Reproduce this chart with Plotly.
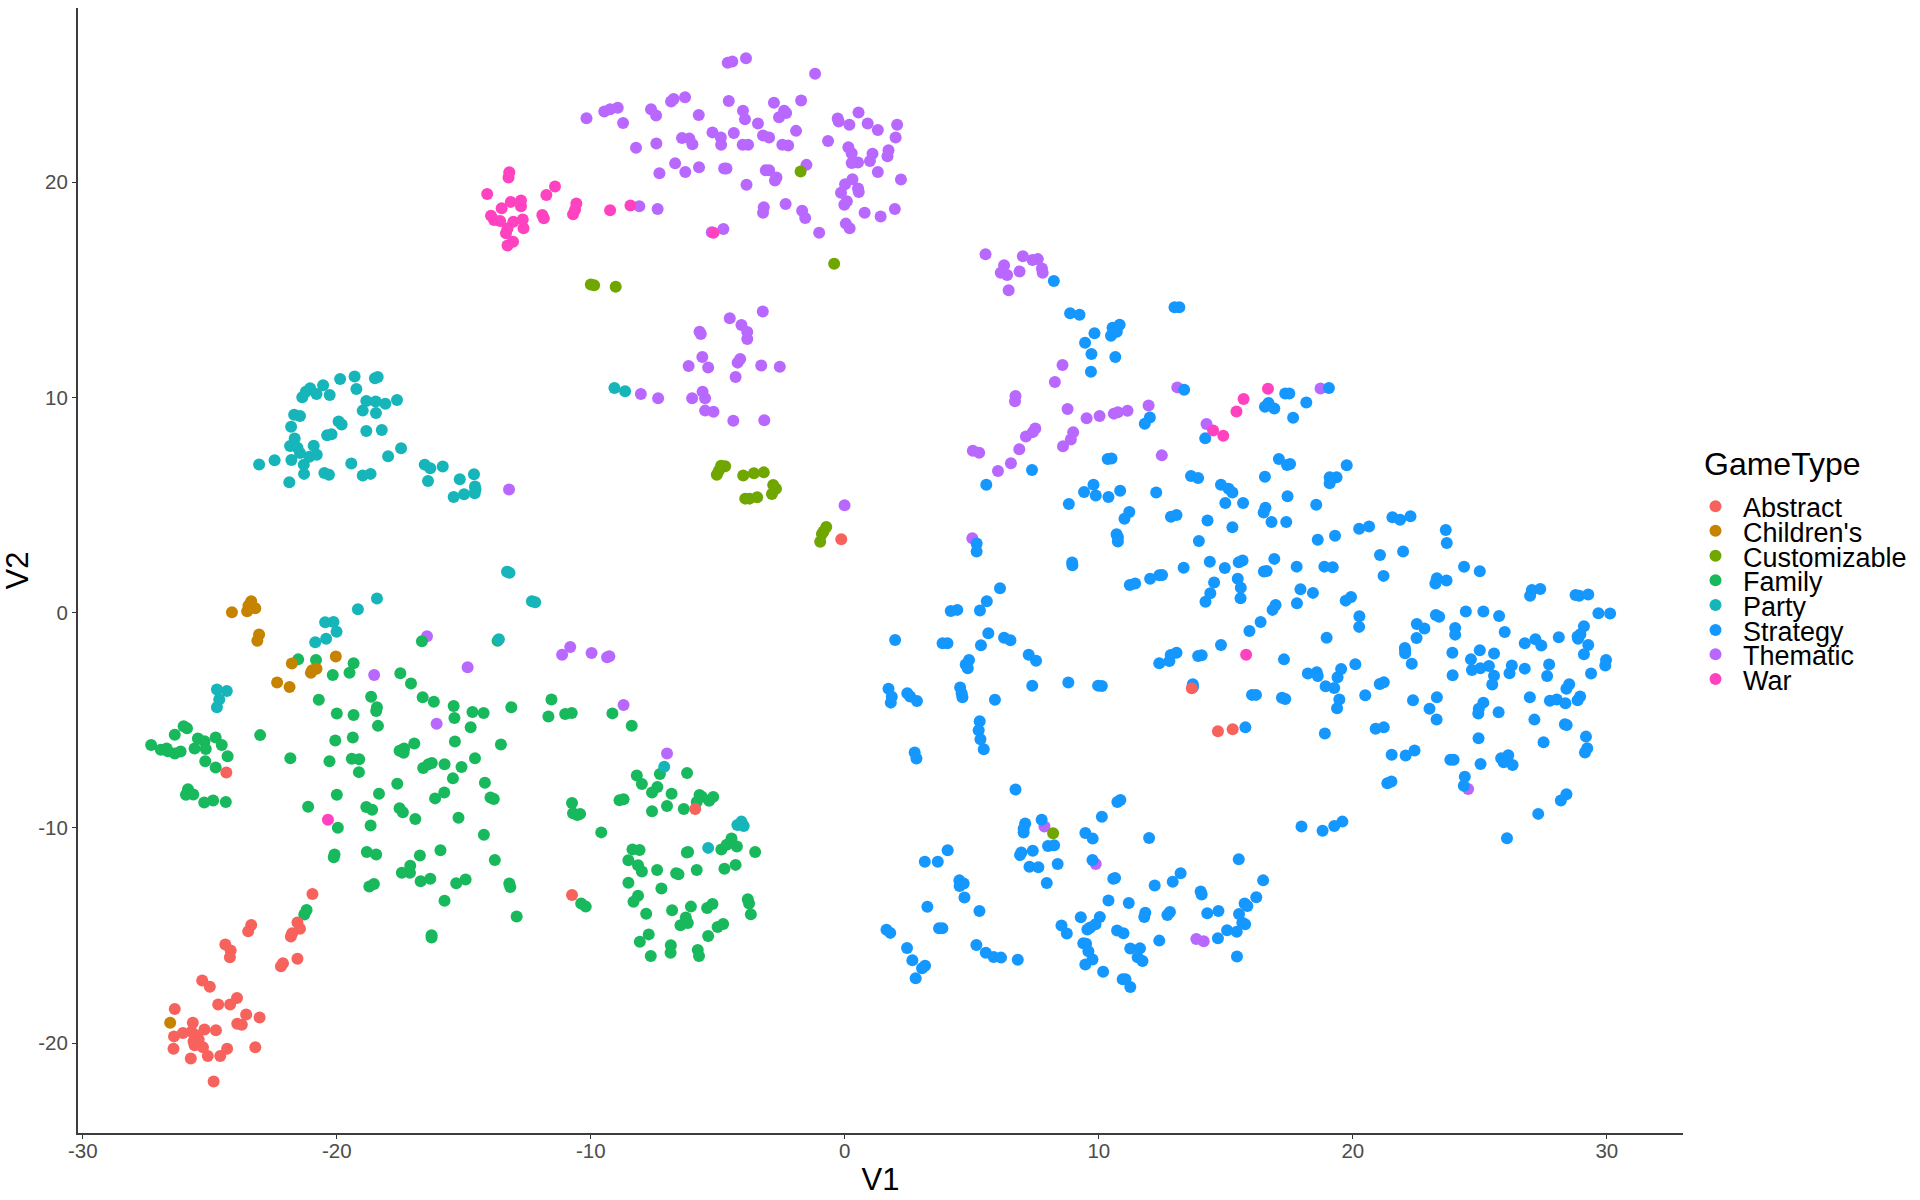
import plotly.graph_objects as go

game_types = ["Abstract", "Children's", "Customizable", "Family", "Party", "Strategy", "Thematic", "War"]
colors = {"Abstract": "#F8625C", "Children's": "#C58300", "Customizable": "#70A600", "Family": "#18B85C",
          "Party": "#16B5B9", "Strategy": "#1497FF", "Thematic": "#B968FF", "War": "#FF43C0"}

abstract_pts = [(-20.96,-13.07),(-21.55,-14.40),(-21.45,-14.69),(-21.76,-14.90),(-21.81,-15.05),(-23.37,-14.51),(-23.49,-14.81),(-24.39,-15.42),(-24.18,-15.70),(-24.21,-16.01),(-22.12,-16.29),(-22.20,-16.43),(-21.55,-16.08),(-25.30,-17.09),(-25.00,-17.38),(-23.93,-17.91),(-24.20,-18.21),(-24.67,-18.21),(-26.38,-18.42),(-23.57,-18.67),(-23.04,-18.81),(-25.67,-19.06),(-23.92,-19.10),(-23.74,-19.15),(-25.21,-19.37),(-24.76,-19.40),(-26.06,-19.53),(-25.72,-19.47),(-26.41,-19.69),(-25.51,-19.65),(-25.58,-19.79),(-25.44,-19.83),(-25.64,-19.92),(-25.60,-20.10),(-25.27,-20.19),(-26.43,-20.27),(-24.32,-20.27),(-23.21,-20.19),(-25.08,-20.60),(-24.59,-20.60),(-25.75,-20.72),(-24.85,-21.79),(-24.35,-7.43),(13.66,-3.51),(14.69,-5.51),(15.27,-5.42),(-5.89,-9.12),(-10.74,-13.12),(-0.14,3.41)]

childrens_pts = [(-24.13,0.02),(-23.53,0.07),(-23.37,0.53),(-23.41,0.39),(-23.21,0.21),(-23.48,0.32),(-23.06,-1.01),(-23.13,-1.30),(-26.56,-19.06),(-21.77,-2.36),(-22.35,-3.25),(-21.86,-3.45),(-21.02,-2.79),(-20.97,-2.67),(-20.80,-2.61),(-20.04,-2.04)]

customizable_pts = [(-1.74,20.50),(-0.42,16.22),(-10.00,15.25),(-9.87,15.22),(-9.02,15.15),(8.20,-10.25),(-5.04,6.41),(-4.96,6.60),(-4.87,6.83),(-4.71,6.80),(-4.00,6.38),(-3.58,6.48),(-3.19,6.52),(-2.82,5.93),(-2.71,5.76),(-2.87,5.52),(-3.92,5.30),(-3.75,5.30),(-3.45,5.36),(-0.73,3.98),(-0.84,3.77),(-0.90,3.66),(-0.97,3.30)]

family_pts = [(-27.31,-6.15),(-26.93,-6.37),(-26.70,-6.31),(-26.65,-6.44),(-26.38,-6.54),(-26.15,-6.45),(-26.38,-5.67),(-26.03,-5.28),(-25.90,-5.37),(-25.60,-6.31),(-25.47,-5.85),(-25.21,-5.97),(-25.16,-6.33),(-24.77,-5.80),(-24.53,-6.15),(-24.30,-6.67),(-25.18,-6.90),(-24.77,-7.20),(-25.86,-8.20),(-25.94,-8.46),(-25.65,-8.45),(-25.22,-8.82),(-24.87,-8.73),(-24.37,-8.80),(-23.02,-5.69),(-21.83,-6.77),
(-21.52,-2.17),(-20.82,-2.20),(-19.34,-2.35),(-19.50,-2.79),(-20.16,-2.90),(-20.71,-4.05),(-20.00,-4.69),(-19.34,-4.75),(-18.65,-3.91),(-18.42,-4.39),(-18.45,-4.57),(-18.38,-5.26),(-20.06,-5.94),(-19.37,-5.80),(-20.29,-6.90),(-19.41,-6.79),(-19.12,-6.81),(-19.13,-7.41),(-20.00,-8.46),(-21.13,-9.02),(-19.96,-9.99),(-18.67,-9.89),(-18.84,-9.03),(-18.61,-9.16),(-18.34,-8.41),(-17.62,-7.95),(-17.50,-2.81),(-17.08,-3.29),(-16.62,-3.93),(-16.18,-4.14),(-15.40,-4.34),(-15.37,-4.89),(-14.66,-4.62),(-14.22,-4.66),(-13.13,-4.39),(-14.73,-5.32),(-15.35,-5.99),(-13.54,-6.13),(-16.95,-6.08),(-17.35,-6.31),(-17.53,-6.42),(-17.37,-6.51),(-16.60,-7.22),(-16.39,-7.04),(-16.26,-6.99),(-15.76,-7.04),(-15.09,-7.17),(-14.56,-6.77),(-15.43,-7.70),(-14.17,-7.90),(-15.77,-8.36),(-16.13,-8.63),(-13.95,-8.59),(-13.82,-8.66),(-15.21,-9.53),(-17.53,-9.09),(-17.40,-9.27),(-16.91,-9.59),(-14.21,-10.32),(-15.92,-11.04),(-16.73,-11.28),(-13.78,-11.49),(-20.09,-11.24),(-20.12,-11.37),(-18.82,-11.12),(-18.45,-11.24),(-17.11,-11.76),(-17.12,-12.09),(-17.44,-12.09),(-16.70,-12.48),(-16.32,-12.36),(-14.93,-12.40),(-15.30,-12.57),(-15.76,-13.39),(-18.72,-12.72),(-18.54,-12.61),(-13.21,-12.59),(-13.17,-12.75),(-12.92,-14.12),(-16.27,-14.99),(-16.27,-15.10),(-21.28,-14.03),(-21.19,-13.82),(-16.65,-1.33),(-13.67,-1.31),
(-11.55,-4.04),(-11.67,-4.82),(-11.01,-4.71),(-10.75,-4.66),(-9.15,-4.68),(-8.39,-5.25),(-6.21,-7.45),(-8.19,-7.57),(-7.28,-7.50),(-7.99,-7.96),(-7.38,-8.10),(-7.59,-8.36),(-6.82,-8.41),(-8.71,-8.67),(-8.87,-8.72),(-5.72,-8.47),(-5.63,-8.55),(-5.83,-8.80),(-5.34,-8.74),(-5.18,-8.56),(-10.74,-8.84),(-10.70,-9.32),(-10.53,-9.40),(-10.42,-9.35),(-7.59,-9.23),(-7.00,-8.98),(-6.34,-9.12),(-9.59,-10.21),(-8.36,-11.00),(-8.08,-11.03),(-6.17,-11.12),(-6.22,-11.15),(-4.86,-11.01),(-4.65,-10.78),(-4.46,-10.49),(-4.25,-10.87),(-3.53,-11.12),(-8.52,-11.51),(-8.14,-11.74),(-7.99,-12.03),(-7.39,-11.96),(-6.64,-12.11),(-6.55,-12.16),(-5.83,-11.96),(-4.74,-11.90),(-4.30,-11.72),(-8.52,-12.55),(-7.22,-12.82),(-10.38,-13.51),(-10.20,-13.66),(-8.14,-13.15),(-8.32,-13.43),(-7.82,-13.99),(-6.80,-13.83),(-6.06,-13.66),(-5.42,-13.72),(-5.21,-13.54),(-3.82,-13.32),(-3.77,-13.52),(-3.70,-14.02),(-6.26,-14.16),(-6.18,-14.42),(-6.47,-14.53),(-5.01,-14.61),(-4.79,-14.47),(-5.38,-15.02),(-7.72,-14.95),(-8.07,-15.29),(-6.85,-15.46),(-6.86,-15.80),(-7.64,-15.95),(-5.79,-15.67),(-5.74,-15.95)]

party_pts = [(-23.06,6.89),(-22.45,7.08),(-21.79,7.10),(-21.87,6.06),(-21.29,6.45),(-21.30,6.88),(-21.45,7.42),(-21.08,7.25),(-20.79,7.34),(-20.91,7.76),(-21.84,7.75),(-21.66,8.09),(-21.55,7.67),(-21.80,8.64),(-21.68,9.20),(-21.45,9.14),(-21.36,10.01),(-21.22,10.27),(-21.05,10.43),(-20.80,10.16),(-20.54,10.57),(-20.28,10.12),(-19.87,10.86),(-19.30,10.98),(-19.23,10.39),(-18.50,10.89),(-18.39,10.95),(-18.84,9.84),(-18.47,9.81),(-18.09,9.71),(-17.63,9.88),(-18.98,9.39),(-18.46,9.28),(-19.93,8.88),(-19.81,8.75),(-20.38,8.24),(-20.21,8.29),(-18.84,8.44),(-18.23,8.49),(-19.43,6.93),(-20.49,6.49),(-20.31,6.41),(-18.98,6.37),(-18.67,6.45),(-17.98,7.27),(-17.47,7.64),(-16.54,6.88),(-16.32,6.71),(-15.83,6.79),(-16.41,6.12),(-15.16,6.20),(-14.60,6.43),(-14.56,5.86),(-14.54,5.73),(-14.57,5.55),(-14.99,5.50),(-15.40,5.38),(-9.07,10.44),(-8.65,10.29),
(-24.72,-3.57),(-24.33,-3.64),(-24.63,-4.04),(-24.72,-4.39),(-20.46,-0.44),(-20.13,-0.43),(-20.01,-0.89),(-20.42,-1.21),(-20.85,-1.37),(-19.17,0.16),(-18.42,0.66),(-13.30,1.90),(-13.20,1.85),(-13.62,-1.23),(-12.32,0.53),(-12.19,0.48),(-7.11,-7.16),(-5.38,-10.93),(-4.23,-9.87),(-4.07,-9.71),(-3.98,-9.91)]

strategy_pts = [(10.35,7.14),(10.50,7.16),(17.09,7.14),(17.41,6.86),(17.53,6.91),(19.76,6.85),(13.63,6.35),(13.91,6.26),(16.54,6.32),(19.09,6.29),(19.36,6.29),(19.09,6.01),(14.81,5.95),(15.11,5.76),(15.26,5.58),(10.84,5.67),(10.38,5.38),(12.26,5.59),(14.98,5.10),(15.68,5.10),(17.43,5.41),(18.56,5.02),(11.20,4.68),(11.01,4.37),(12.84,4.46),(13.06,4.54),(14.28,4.28),(15.26,3.97),(16.56,4.88),(16.49,4.65),(16.80,4.21),(17.38,4.21),(10.70,3.64),(10.75,3.50),(10.75,3.31),(13.94,3.33),(18.62,3.39),(19.30,3.58),(20.25,3.90),(20.64,4.00),(21.56,4.43),(21.86,4.32),(22.27,4.48),(23.66,3.84),(23.70,3.24),(21.07,2.68),(21.98,2.84),(14.37,2.37),(14.96,2.08),(13.34,2.09),(15.51,2.34),(15.66,2.43),(16.91,2.50),(17.79,2.14),(18.88,2.14),(19.21,2.11),(16.50,1.91),(16.61,1.94),(12.38,1.74),(12.02,1.58),(11.43,1.36),(11.22,1.29),(12.49,1.75),(15.47,1.58),(14.54,1.40),(15.59,1.16),(14.39,0.90),(14.20,0.51),(15.58,0.67),(17.94,1.09),(18.43,0.92),(17.80,0.44),(21.21,1.71),(23.31,1.60),(23.25,1.36),(23.69,1.49),(24.38,2.13),(25.00,1.92),(19.93,0.73),(19.72,0.56),(16.96,0.36),(16.84,0.13),(16.37,-0.43),(15.93,-0.85),(20.26,-0.17),(20.25,-0.66),(18.97,-1.16),(14.81,-1.50),(13.06,-1.86),(12.83,-1.97),(12.78,-2.25),(12.38,-2.35),(13.91,-2.01),(14.05,-1.98),(17.29,-2.17),
(13.70,-3.33),(13.71,-3.45),(10.12,-3.41),(20.10,-2.40),(19.54,-2.62),(19.40,-3.00),(18.23,-2.83),(18.58,-2.77),(18.62,-2.94),(18.93,-3.42),(19.27,-3.50),(19.47,-4.03),(19.38,-4.44),(20.49,-3.84),(21.06,-3.31),(21.22,-3.23),(16.03,-3.82),(16.19,-3.82),(17.21,-3.95),(17.34,-4.01),(15.77,-5.33),(18.90,-5.61),(20.90,-5.39),(21.22,-5.33),(22.37,-4.07),(23.31,-3.93),(23.02,-4.46),(23.30,-4.96),
(22.52,-0.53),(22.82,-0.73),(22.51,-1.18),(23.27,-0.11),(23.40,-0.19),(24.45,0.06),(25.14,0.05),(25.76,-0.15),(24.03,-0.71),(24.03,-1.02),(25.98,-0.90),(22.05,-1.64),(22.06,-1.76),(22.06,-1.89),(22.32,-2.37),(23.92,-1.86),(25.00,-1.75),(25.56,-1.90),(24.65,-2.17),(24.69,-2.66),(25.02,-2.58),(25.36,-2.48),(26.26,-2.45),(26.17,-2.82),(26.77,-2.60),(25.56,-2.93),(25.49,-3.34),(23.93,-2.91),(27.73,-2.41),(27.65,-2.94),
(27.05,1.05),(26.98,0.79),(27.38,1.10),(28.77,0.82),(28.91,0.79),(29.27,0.85),(29.67,-0.03),(30.13,-0.04),(29.10,-0.63),(28.96,-1.00),(28.85,-1.11),(28.87,-1.21),(28.11,-1.14),(27.19,-1.24),(27.42,-1.52),(26.77,-1.42),(29.27,-1.50),(29.10,-1.93),(29.97,-2.20),(29.94,-2.45),(29.38,-2.83),
(28.52,-3.33),(28.41,-3.53),(26.97,-3.93),(27.76,-4.09),(28.03,-4.03),(28.37,-4.21),(28.95,-3.90),(28.85,-4.07),(25.14,-4.18),(24.96,-4.46),(24.94,-4.69),(25.74,-4.63),(27.15,-4.97),(28.35,-5.19),(28.42,-5.22),(24.95,-5.84),(29.18,-5.76),(27.51,-6.02),(29.23,-6.30),(29.14,-6.50),
(21.53,-6.60),(22.08,-6.64),(22.43,-6.40),(23.84,-6.84),(23.97,-6.84),(25.03,-7.03),(25.84,-6.77),(26.12,-6.63),(25.94,-6.95),(26.29,-7.08),(24.41,-7.62),(24.37,-8.04),(21.36,-7.93),(21.52,-7.85),
(28.41,-8.44),(28.19,-8.73),(27.30,-9.35),(26.07,-10.48),(19.59,-9.71),(19.27,-9.91),(18.81,-10.13),(17.98,-9.94),(11.98,-10.47),(10.85,-8.70),(10.73,-8.80),(10.12,-9.48),(15.51,-11.46),
(6.72,-8.22),(7.10,-9.80),(7.04,-10.04),(7.04,-10.22),(7.75,-9.62),(7.40,-11.06),(6.95,-11.14),(6.90,-11.26),(8.00,-10.84),(8.24,-10.81),(7.27,-11.81),(7.62,-11.83),(8.38,-11.68),(7.95,-12.56),(9.47,-10.24),(9.76,-10.50),(9.75,-11.49),(4.05,-11.04),(3.15,-11.58),(3.66,-11.58),(4.51,-12.44),(4.68,-12.59),(4.52,-12.70),(4.71,-13.24),(3.25,-13.67),(5.30,-13.86),(1.64,-14.74),(1.79,-14.88),(3.71,-14.66),(3.84,-14.66),(2.45,-15.58),(2.66,-16.15),(3.04,-16.52),(3.16,-16.41),(2.79,-16.99),(5.18,-15.44),(5.55,-15.80),(5.86,-16.00),(6.15,-16.03),(6.81,-16.13),(8.53,-14.54),(8.74,-14.91),(9.29,-14.15),(9.55,-14.72),(9.66,-14.63),(9.87,-14.48),(10.04,-14.14),(9.39,-15.36),(9.50,-15.38),(9.59,-15.73),(9.75,-16.12),(9.47,-16.35),(10.17,-16.69),
(10.57,-12.36),(10.64,-12.33),(10.38,-13.38),(11.18,-13.49),(12.20,-12.68),(12.91,-12.50),(13.22,-12.11),(10.72,-14.77),(10.97,-14.90),(11.83,-13.94),(11.79,-14.14),(12.80,-13.91),(12.70,-14.05),(12.38,-15.24),(11.24,-15.61),(11.62,-15.60),(11.53,-16.01),(11.72,-16.19),(10.94,-17.04),(11.05,-17.04),(11.24,-17.39),(14.01,-12.96),(14.05,-13.10),(14.27,-13.97),(14.71,-13.86),(15.52,-14.00),(15.74,-13.52),(15.85,-13.63),(16.20,-13.22),(16.47,-12.44),(15.65,-14.41),(15.76,-14.48),(15.43,-14.83),(15.05,-14.76),(14.69,-15.13),(15.44,-15.98),
(5.19,3.21),(5.19,2.84),(8.95,2.33),(8.96,2.20),(6.11,1.13),(5.59,0.53),(5.32,0.10),(4.17,0.08),(4.43,0.13),(5.65,-0.96),(6.27,-1.17),(6.52,-1.28),(3.85,-1.42),(4.04,-1.42),(1.98,-1.27),(5.36,-1.51),(4.89,-2.20),(4.76,-2.41),(4.84,-2.58),(7.24,-1.95),(7.53,-2.23),(4.54,-3.48),(4.60,-3.74),(4.63,-3.93),(1.72,-3.54),(1.85,-3.91),(1.81,-4.18),(2.46,-3.74),(2.57,-3.90),(2.84,-4.10),(5.91,-4.05),(7.38,-3.40),(8.80,-3.25),(9.97,-3.39),(5.31,-5.05),(5.27,-5.46),(5.34,-5.88),(5.47,-6.35),(2.75,-6.50),(2.82,-6.78),
(8.23,15.41),(8.87,13.91),(9.24,13.85),(12.98,14.19),(13.17,14.19),(9.83,12.98),(9.46,12.54),(10.48,12.87),(10.54,13.24),(10.71,13.06),(10.82,13.38),(9.71,12.02),(10.65,11.88),(9.69,11.20),(13.36,10.36),(12.01,9.07),(11.81,8.78),(19.06,10.44),(17.34,10.19),(17.50,10.19),(16.68,9.74),(16.54,9.57),(16.91,9.49),(18.17,9.77),(17.65,9.06),(14.19,8.10),(7.37,6.63),(5.57,5.95),(9.79,5.95),(9.42,5.61),(9.88,5.45),(8.82,5.05)]

thematic_pts = [(-4.61,25.56),(-4.43,25.61),(-3.89,25.76),(-1.17,25.04),(-10.17,22.98),(-9.47,23.29),(-9.24,23.39),(-8.94,23.46),(-8.73,22.76),(-7.63,23.39),(-7.43,23.10),(-6.84,23.75),(-6.74,23.87),(-6.29,23.95),(-5.75,23.13),(-4.57,23.78),(-4.01,23.33),(-3.93,22.93),(-3.42,22.73),(-2.79,23.70),(-2.59,23.02),(-2.39,23.32),(-2.31,23.22),(-1.72,23.80),(-5.21,22.32),(-4.88,22.08),(-4.37,22.29),(-4.87,21.74),(-4.02,21.74),(-3.81,21.74),(-3.22,22.17),(-2.98,22.08),(-1.92,22.39),(-2.46,21.75),(-2.23,21.71),(-6.41,22.06),(-6.12,22.03),(-6.00,21.77),(-8.22,21.61),(-7.42,21.80),(-0.66,21.92),(-0.28,22.96),(-0.24,22.82),(0.54,23.24),(0.18,22.67),(0.90,22.73),(1.30,22.43),(2.06,22.67),(2.00,22.08),(0.14,21.63),(0.27,21.35),(1.72,21.49),(1.68,21.21),(1.09,21.33),(0.99,20.99),(0.27,20.90),(0.52,20.92),(-6.68,20.88),(-7.30,20.42),(-6.28,20.48),(-5.74,20.70),(-4.75,20.64),(-4.66,20.64),(-3.11,20.56),(-2.98,20.56),(-1.51,20.81),(-2.69,20.22),(-2.75,20.08),(1.30,20.48),(0.30,20.14),(0.01,19.91),(-0.15,19.51),(0.52,19.71),(0.55,19.55),(2.21,20.13),(-3.87,19.89),(-8.09,18.89),(-7.37,18.76),(-3.19,18.84),(-3.22,18.59),(-2.33,18.99),(-1.68,18.68),(-1.56,18.34),(0.08,19.12),(-0.02,18.96),(0.78,18.59),(1.41,18.41),(1.97,18.76),(0.04,18.08),(0.19,17.86),(-1.01,17.66),(-4.78,17.83),(-5.24,17.68),
(-3.23,14.00),(-4.53,13.68),(-4.07,13.37),(-3.84,13.04),(-3.84,12.72),(-5.72,13.06),(-5.67,12.95),(-5.61,11.88),(-6.15,11.46),(-5.38,11.39),(-4.12,11.79),(-4.22,11.62),(-3.29,11.49),(-2.56,11.43),(-4.30,10.95),(-5.60,10.27),(-5.50,9.96),(-6.01,9.96),(-8.03,10.16),(-7.35,9.96),(-5.50,9.39),(-5.17,9.34),(-4.39,8.92),(-3.17,8.94),(-0.01,4.99),(-13.22,5.72),
(-16.45,-1.10),(-18.53,-2.90),(-14.85,-2.54),(-16.07,-5.16),(-10.81,-1.59),(-11.13,-1.95),(-9.97,-1.87),(-9.36,-2.07),(-9.27,-2.03),(-8.71,-4.29),(-7.00,-6.54),
(5.54,16.66),(7.01,16.56),(6.27,16.15),(6.14,15.80),(6.39,15.69),(6.88,15.86),(7.39,16.39),(7.60,16.43),(7.76,16.00),(7.79,15.80),(6.45,14.98),(8.57,11.51),(8.27,10.72),(6.72,10.07),(6.70,9.83),(8.77,9.46),(9.52,9.03),(10.03,9.14),(10.59,9.25),(10.75,9.31),(11.13,9.38),(11.96,9.63),(13.09,10.47),(18.73,10.42),(14.24,8.77),(12.48,7.31),(8.99,8.38),(8.90,8.05),(8.59,7.73),(7.50,8.56),(7.40,8.39),(7.13,8.19),(6.87,7.59),(6.54,6.94),(6.03,6.58),(5.04,7.53),(5.29,7.43),(5.02,3.46),(24.54,-8.19),(7.86,-9.94),(9.88,-11.68),(13.84,-15.16),(14.13,-15.27)]

war_pts = [(-13.21,20.47),(-13.24,20.22),(-14.08,19.46),(-13.15,19.09),(-12.75,19.16),(-12.75,18.89),(-13.51,18.79),(-11.75,19.41),(-11.41,19.80),(-10.57,19.01),(-10.62,18.72),(-10.70,18.51),(-11.91,18.48),(-11.85,18.33),(-13.93,18.45),(-13.81,18.25),(-13.57,18.20),(-13.05,18.17),(-12.68,18.27),(-12.65,17.86),(-13.28,17.86),(-13.34,17.63),(-13.06,17.24),(-13.28,17.06),(-9.24,18.70),(-8.44,18.92),(-5.17,17.66),(15.70,9.93),(16.66,10.41),(15.42,9.35),(14.50,8.47),(14.90,8.22),(15.80,-1.95),(-20.35,-9.62)]

points = {"Abstract": abstract_pts, "Children's": childrens_pts, "Customizable": customizable_pts, "Family": family_pts,
          "Party": party_pts, "Strategy": strategy_pts, "Thematic": thematic_pts, "War": war_pts}
draw_order = ["Thematic", "Strategy", "Family", "Customizable", "Children's", "Party", "Abstract", "War"]
x_ticks = [-30, -20, -10, 0, 10, 20, 30]
y_ticks = [-20, -10, 0, 10, 20]

W, H = 1920, 1200
FONT = "Liberation Sans, Arial, sans-serif"
fig = go.Figure()
for g in draw_order:
    pts = points[g]
    fig.add_trace(go.Scatter(x=[p[0] for p in pts], y=[p[1] for p in pts], mode="markers", name=g,
                             marker=dict(color=colors[g], size=12, line=dict(width=0)), showlegend=False))

# legend keys, on an overlay axis pair measured in picture pixels
legend_y = [506.3, 530.7, 555.7, 580.3, 605, 630, 654.3, 679]
fig.add_trace(go.Scatter(x=[1715.5] * 8, y=legend_y, mode="markers", xaxis="x2", yaxis="y2", showlegend=False,
                         marker=dict(color=[colors[g] for g in game_types], size=12, line=dict(width=0)), hoverinfo="skip"))
annotations = [dict(text="GameType", x=1702 / W, y=1 - 464 / H, xref="paper", yref="paper", xanchor="left", yanchor="middle",
                    showarrow=False, font=dict(family=FONT, size=32, color="black"))]
for g, ly in zip(game_types, legend_y):
    annotations.append(dict(text=g, x=1741 / W, y=1 - (ly + 2) / H, xref="paper", yref="paper", xanchor="left", yanchor="middle",
                            showarrow=False, font=dict(family=FONT, size=27, color="black")))

axis_common = dict(showgrid=False, zeroline=False, showline=True, linecolor="#3d3d3d", linewidth=2, ticks="outside", ticklen=4,
                   tickwidth=1, tickcolor="#333333", tickfont=dict(family=FONT, size=20.5, color="#4D4D4D"), tickmode="array",
                   automargin=False)
fig.update_layout(
    width=W, height=H, margin=dict(l=0, r=0, t=0, b=0), paper_bgcolor="white", plot_bgcolor="rgba(0,0,0,0)", showlegend=False,
    annotations=annotations,
    xaxis=dict(domain=[78 / W, 1683 / W], range=[-30.19, 33.0], tickvals=x_ticks, ticktext=[str(v) for v in x_ticks],
               ticklabelstandoff=-6,
               title=dict(text="V1", font=dict(family=FONT, size=31, color="black"), standoff=8), **axis_common),
    yaxis=dict(domain=[1 - 1133 / H, 1 - 8 / H], range=[-24.18, 28.1], tickvals=y_ticks, ticktext=[str(v) for v in y_ticks],
               title=dict(text="V2", font=dict(family=FONT, size=31, color="black"), standoff=8), **axis_common),
    xaxis2=dict(domain=[0, 1], range=[0, W], visible=False, anchor="y2"),
    yaxis2=dict(domain=[0, 1], range=[H, 0], visible=False, anchor="x2"),
)
fig.write_html("out.html", config={"displayModeBar": False}, post_script="document.body.style.margin='0';")
